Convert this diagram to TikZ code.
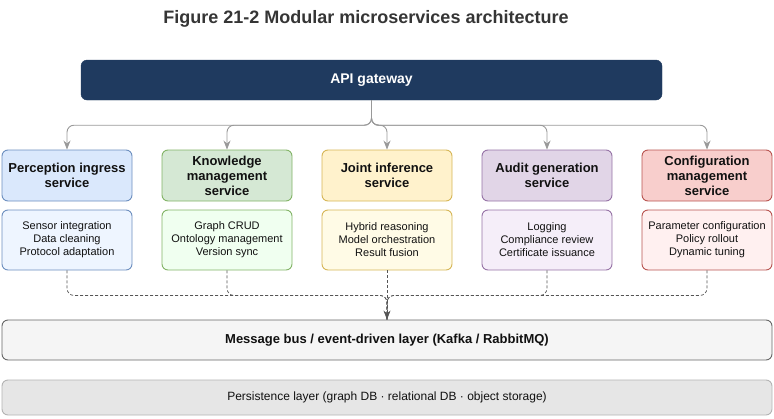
\documentclass[tikz,border=0pt]{standalone}
\usepackage{fontspec}
\setmainfont{Liberation Sans}
\usetikzlibrary{arrows.meta}
\definecolor{navy}{HTML}{1F3A5F}
\definecolor{bF}{HTML}{DAE8FC}\definecolor{bS}{HTML}{6C8EBF}\definecolor{bL}{HTML}{EEF5FF}
\definecolor{gF}{HTML}{D5E8D4}\definecolor{gS}{HTML}{82B366}\definecolor{gL}{HTML}{F0FFF0}
\definecolor{yF}{HTML}{FFF2CC}\definecolor{yS}{HTML}{D6B656}\definecolor{yL}{HTML}{FFFBE6}
\definecolor{pF}{HTML}{E1D5E7}\definecolor{pS}{HTML}{9673A6}\definecolor{pL}{HTML}{F5EEF9}
\definecolor{rF}{HTML}{F8CECC}\definecolor{rS}{HTML}{B85450}\definecolor{rL}{HTML}{FFF0F0}
\definecolor{busF}{HTML}{F5F5F5}\definecolor{busS}{HTML}{666666}
\definecolor{perF}{HTML}{E6E6E6}\definecolor{perS}{HTML}{B3B3B3}
\definecolor{arrC}{HTML}{999999}\definecolor{dashC}{HTML}{555555}
\definecolor{txt}{HTML}{111111}
\tikzset{
  box/.style={draw, rounded corners=6pt, line width=0.9pt, minimum width=130pt, align=center, inner sep=0pt, text=txt},
  head/.style={box, minimum height=51pt, font=\fontsize{13}{15}\selectfont\bfseries},
  body/.style={box, minimum height=60pt, font=\fontsize{11}{13}\selectfont},
  arr/.style={draw=arrC, line width=0.9pt, rounded corners=7pt, -{Stealth[length=9pt,width=7pt]}},
  dsh/.style={draw=dashC, line width=0.7pt, dash pattern=on 3pt off 2pt, rounded corners=7pt},
}
\begin{document}
\begin{tikzpicture}[x=1pt,y=-1pt]
\useasboundingbox (0,0) rectangle (774,418);
\node[font=\fontsize{18}{20}\selectfont\bfseries, text=txt!85] (title) at (366,19) {Figure 21-2 Modular microservices architecture};
\node[fill=navy, draw=navy, rounded corners=6pt, minimum width=581pt, minimum height=40pt, text=white, font=\fontsize{14}{16}\selectfont\bfseries] (gw) at (371.5,80) {API gateway};

\node[head, fill=bF, draw=bS] (s1) at (67,175.5) {Perception ingress\\service};
\node[head, fill=gF, draw=gS] (s2) at (227,175.5) {Knowledge\\management\\service};
\node[head, fill=yF, draw=yS] (s3) at (387,175.5) {Joint inference\\service};
\node[head, fill=pF, draw=pS] (s4) at (547,175.5) {Audit generation\\service};
\node[head, fill=rF, draw=rS] (s5) at (707,175.5) {Configuration\\management\\service};

\node[body, fill=bL, draw=bS] (d1) at (67,240) {Sensor integration\\Data cleaning\\Protocol adaptation};
\node[body, fill=gL, draw=gS] (d2) at (227,240) {Graph CRUD\\Ontology management\\Version sync};
\node[body, fill=yL, draw=yS] (d3) at (387,240) {Hybrid reasoning\\Model orchestration\\Result fusion};
\node[body, fill=pL, draw=pS] (d4) at (547,240) {Logging\\Compliance review\\Certificate issuance};
\node[body, fill=rL, draw=rS] (d5) at (707,240) {Parameter configuration\\Policy rollout\\Dynamic tuning};

\node[box, fill=busF, draw=busS, minimum width=770pt, minimum height=40pt, font=\fontsize{13}{15}\selectfont\bfseries] (bus) at (387,340) {Message bus / event-driven layer (Kafka / RabbitMQ)};
\node[box, fill=perF, draw=perS, minimum width=770pt, minimum height=35pt, font=\fontsize{12}{14}\selectfont] (per) at (387,397.5) {Persistence layer (graph DB · relational DB · object storage)};

\foreach \s in {s1,s2,s3,s4,s5}{
  \draw[arr] (gw.south) -- ++(0,25) -| (\s.north);
}
\foreach \d in {d1,d2,d4,d5}{
  \draw[dsh] (\d.south) -- ++(0,25) -| (bus.north);
}
\draw[dsh, -{Stealth[length=9pt,width=7pt]}] (d3.south) -- (bus.north);
\end{tikzpicture}
\end{document}
